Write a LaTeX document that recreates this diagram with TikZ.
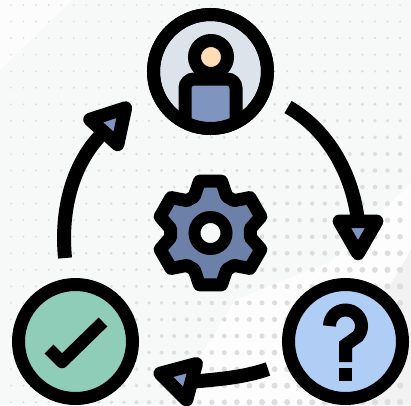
\documentclass[tikz,border=0pt]{standalone}
\usetikzlibrary{shapes.geometric}
\definecolor{paper}{HTML}{F7F8F8}
\definecolor{dotgray}{HTML}{DEDEDE}
\definecolor{userbg}{HTML}{DDE3EA}
\definecolor{bodyblue}{HTML}{7F95BF}
\definecolor{skin}{HTML}{FFDCB5}
\definecolor{okgreen}{HTML}{8FCDB9}
\definecolor{askblue}{HTML}{B0CDF6}
\definecolor{gearblue}{HTML}{6D81A8}
\tikzset{
  ring/.style={circle,draw=black,line width=13pt,minimum size=114pt,inner sep=0pt,outer sep=0pt},
  head/.style={regular polygon,regular polygon sides=3,draw=black,fill=bodyblue,line width=13.5pt,
    line join=round,minimum size=43pt,inner sep=0pt,outer sep=0pt},
  flow/.style={line width=14pt,draw=black}
}
\begin{document}
\begin{tikzpicture}[x=1pt,y=-1pt]
  \useasboundingbox (0,0) rectangle (411,405);
  \fill[paper] (0,0) rectangle (411,405);
  \fill[white!60!paper] (0,0) -- (72,0) -- (0,70) -- cycle;
  \fill[white!70!paper] (170,405) -- (235,300) -- (330,262) -- (411,183) -- (411,250) -- (320,405) -- cycle;
  \fill[black!5] (411,250) -- (411,405) -- (320,405) -- cycle;
  % dots get bigger toward the lower right
  \foreach \i in {0,...,31} {
    \foreach \j in {0,...,24} {
      \pgfmathsetmacro\cx{11+12.55*\i}
      \pgfmathsetmacro\cy{5+16.55*\j}
      \pgfmathsetmacro\rd{0.9+2.2*min(\cx/400*\cy/270,1)}
      \fill[dotgray] (\cx,\cy) circle (\rd pt);
    }
  }

  % the three discs
  \node[ring,fill=userbg] (user) at (210.5,71.5) {};
  \node[ring,fill=okgreen] (check) at (75.5,341.5) {};
  \node[ring,fill=askblue] (query) at (345.5,341.5) {};

  % person, cut off by the disc
  \begin{scope}
    \clip (user) circle (57pt);
    \draw[fill=bodyblue,line width=13pt,rounded corners=9pt] (185,135) -- (185,79) -- (236,79) -- (236,135) -- cycle;
  \end{scope}
  \draw[line width=13pt] (user) circle (57pt);
  \node[circle,draw=black,fill=skin,line width=13pt,minimum size=33pt,inner sep=0pt,outer sep=0pt] (face) at (211,57) {};

  % tick
  \draw[line width=12.5pt,line join=round] (49,349) -- (62,362) -- (103,322);

  % question mark
  \draw[line width=13pt] (329.5,326) arc[start angle=180,end angle=400,radius=16] -- (345.5,345) -- (345.5,362);
  \fill (339,368) rectangle (352,381);

  % gear
  \begin{scope}[shift={(210.5,233)}]
    \draw[fill=gearblue,line width=13pt,line join=round] (66:40)
      \foreach \a in {90,150,...,390} {
        -- (\a-12:53) -- (\a+12:53) -- (\a+24:40) -- (\a+36:40)
      } -- cycle;
  \end{scope}
  \node[circle,draw=black,fill=paper,line width=12pt,minimum size=32pt,inner sep=0pt,outer sep=0pt] (hub) at (210.5,233) {};

  % arrows
  \node[head,rotate=180] (headq) at (358,232) {};
  \node[head,rotate=75] (headc) at (181,379) {};
  \node[head,rotate=-42] (headu) at (111,124) {};
  \coordinate (fromu) at (288,107);
  \coordinate (fromq) at (268,369);
  \coordinate (fromc) at (65,258);
  \draw[flow] (fromu) .. controls (325,128) and (352,170) .. (headq.side 2);
  \draw[flow] (fromq) .. controls (245,377) and (222,379) .. (headc.side 2);
  \draw[flow] (fromc) .. controls (60,205) and (75,160) .. (headu.side 2);
\end{tikzpicture}
\end{document}
